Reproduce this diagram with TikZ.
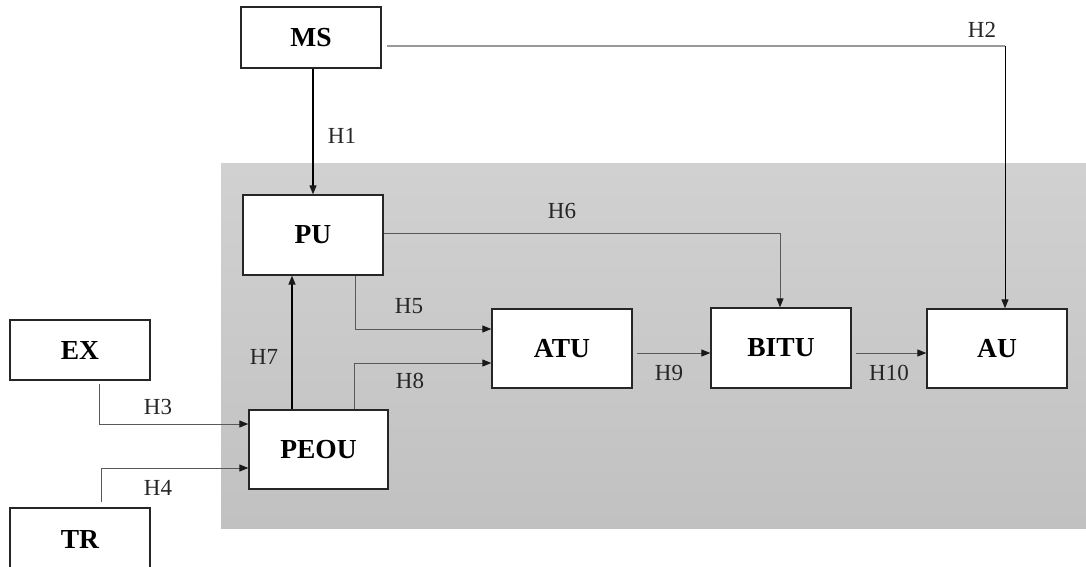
\documentclass[tikz,border=0pt]{standalone}
\usepackage{fontspec}
\setmainfont{Liberation Serif}
\usetikzlibrary{arrows.meta,calc}
\tikzset{
  box/.style={draw=black!85, line width=1.3pt, fill=white, minimum width=140pt, minimum height=80pt, inner sep=0pt, font=\fontsize{27.5}{29}\selectfont\bfseries},
  thin/.style={draw=black!65, line width=0.9pt},
  thick/.style={draw=black, line width=1.3pt},
  tip/.style={-{Triangle[length=9pt,width=7pt,color=black!90]}},
  lab/.style={font=\fontsize{23}{25}\selectfont, text=black!85, inner sep=0pt}
}
\begin{document}
\begin{tikzpicture}[x=1pt,y=-1pt]
\useasboundingbox (0,0) rectangle (1086,567);
\clip (0,0) rectangle (1086,567);
\shade[top color={rgb,255:red,209;green,209;blue,209}, bottom color={rgb,255:red,193;green,193;blue,193}] (221,163) rectangle (1086,528);
% nodes
\node[box, minimum height=61pt] (MS) at (311,37.5) {MS};
\node[box] (PU) at (313,235) {PU};
\node[box, minimum height=60pt] (EX) at (80,350) {EX};
\node[box, minimum height=62pt] (TR) at (80,539) {TR};
\node[box, minimum width=139pt, minimum height=79pt] (PEOU) at (318.5,449.5) {PEOU};
\node[box, minimum height=79pt] (ATU) at (562,348.5) {ATU};
\node[box] (BITU) at (781,348) {BITU};
\node[box, minimum height=79pt] (AU) at (997,348.5) {AU};
% helper coordinates
\coordinate (h2a) at ($(MS.east)+(5,8.5)$);
\coordinate (h2b) at (1005,46);
\coordinate (h2c) at ($(AU.north)+(8,0)$);
\coordinate (h6a) at (780,233);
\coordinate (h5a) at (355,329);
\coordinate (h8a) at (354,363);
\coordinate (h3a) at (99,424);
\coordinate (h4a) at (101,468);
% connectors
\draw[draw=black, line width=1.1pt, tip] (PU.north |- MS.south) -- (PU.north);
\draw[draw=black!40, line width=1.1pt] (h2a) -- (h2b);
\draw[draw=black, line width=1pt, tip] (h2b) -- (h2c);
\draw[thin, tip] (PU.east |- h6a) -- (h6a) -- (BITU.north -| h6a);
\draw[thin, tip] (PU.south -| h5a) -- (h5a) -- (ATU.west |- h5a);
\draw[thin, tip] (PEOU.north -| h8a) -- (h8a) -- (ATU.west |- h8a);
\draw[draw=black, line width=1.6pt, tip] (PEOU.north -| 292,0) -- (PU.south -| 292,0);
\draw[thin, tip] ($(EX.south -| h3a)+(0,3)$) -- (h3a) -- (PEOU.west |- h3a);
\draw[thin, tip] ($(TR.north -| h4a)+(0,-5)$) -- (h4a) -- (PEOU.west |- h4a);
\draw[thin, tip] ($(ATU.east)+(4,4.5)$) -- ($(BITU.west)+(0,5)$);
\draw[thin, tip] ($(BITU.east)+(4,5)$) -- ($(AU.west)+(0,4.5)$);
% labels
\node[lab] (l1) at (342,136) {H1};
\node[lab] (l2) at (982,30) {H2};
\node[lab] (l3) at (158,407) {H3};
\node[lab] (l4) at (158,488) {H4};
\node[lab] (l5) at (409,306) {H5};
\node[lab] (l6) at (562,211) {H6};
\node[lab] (l7) at (264,357) {H7};
\node[lab] (l8) at (410,381) {H8};
\node[lab] (l9) at (669,373) {H9};
\node[lab] (l10) at (889,373) {H10};
\end{tikzpicture}
\end{document}
